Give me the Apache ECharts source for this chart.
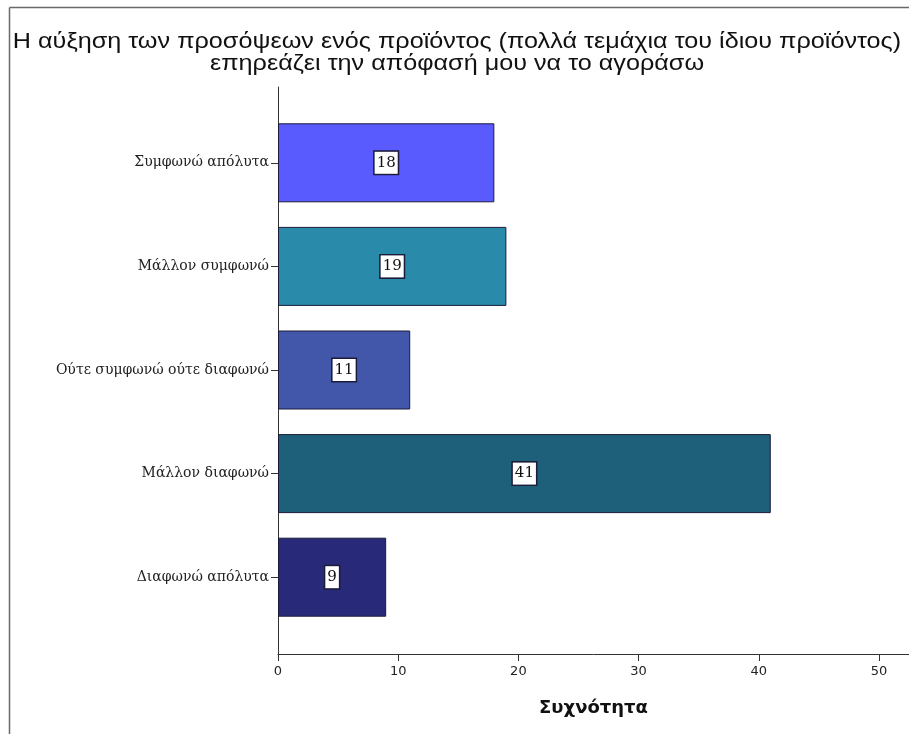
<!DOCTYPE html>
<html>
<head>
<meta charset="utf-8">
<script src="https://cdn.jsdelivr.net/npm/echarts@6/dist/echarts.min.js"></script>
<style>
  html, body { margin: 0; padding: 0; background: #ffffff; }
  #chart { width: 909px; height: 734px; }
</style>
</head>
<body>
<div id="chart"></div>
<script>
// Response categories, top to bottom
var categories = [
  'Συμφωνώ απόλυτα',
  'Μάλλον συμφωνώ',
  'Ούτε συμφωνώ ούτε διαφωνώ',
  'Μάλλον διαφωνώ',
  'Διαφωνώ απόλυτα'
];
// Frequency of each response
var frequencies = [18, 19, 11, 41, 9];
// Tick values on the frequency axis
var xTicks = [0, 10, 20, 30, 40, 50];
// One fill per response bar
var barColors = ['#5a5bff', '#2a8aa9', '#4256aa', '#1e6079', '#29297a'];

var titleLines = [
  'Η αύξηση των προσόψεων ενός προϊόντος (πολλά τεμάχια του ίδιου προϊόντος)',
  'επηρεάζει την απόφασή μου να το αγοράσω'
];

var chart = echarts.init(document.getElementById('chart'), null, { renderer: 'canvas' });

var X_MAX = 52.5;

// Title drawn as two stretched text lines (tall, wide sans face)
function titleLine(text, y) {
  return {
    type: 'text',
    x: 457, y: y,
    scaleX: 1.2, scaleY: 1.05,
    style: {
      text: text,
      fontFamily: 'Liberation Sans',
      fontSize: 21,
      fill: '#111111',
      align: 'center',
      verticalAlign: 'middle'
    }
  };
}

var option = {
  backgroundColor: '#ffffff',
  animation: false,
  graphic: [
    // outer frame (top and left edges)
    { type: 'line', shape: { x1: 9.5, y1: 7.5, x2: 909, y2: 7.5 }, style: { stroke: '#6a6a6a', lineWidth: 1.5 } },
    { type: 'line', shape: { x1: 9.5, y1: 7.5, x2: 9.5, y2: 734 }, style: { stroke: '#6a6a6a', lineWidth: 1.5 } },
    titleLine(titleLines[0], 42),
    titleLine(titleLines[1], 64)
  ],
  grid: [
    { left: 278, right: 0, top: 87, bottom: 80 },
    { left: 278, right: 0, top: 111, bottom: 105 }
  ],
  xAxis: [
    {
      type: 'value', gridIndex: 0, min: 0, max: X_MAX,
      axisLine: { show: true, lineStyle: { color: '#333333', width: 1 } },
      axisTick: { show: true, length: 7, customValues: xTicks, lineStyle: { color: '#333333' } },
      axisLabel: {
        customValues: xTicks, color: '#222222', fontFamily: 'DejaVu Sans', fontSize: 13, margin: 11
      },
      splitLine: { show: false },
      name: 'Συχνότητα',
      nameLocation: 'middle',
      nameGap: 45,
      nameTextStyle: { fontFamily: 'DejaVu Sans', fontSize: 18, fontWeight: 'bold', color: '#111111' }
    },
    {
      type: 'value', gridIndex: 1, min: 0, max: X_MAX, show: false
    }
  ],
  yAxis: [
    {
      type: 'value', gridIndex: 0, min: 0, max: 1,
      axisLine: { show: true, onZero: false, lineStyle: { color: '#333333', width: 1 } },
      axisTick: { show: false }, axisLabel: { show: false }, splitLine: { show: false }
    },
    {
      type: 'category', gridIndex: 1, data: categories, inverse: true,
      axisLine: { show: false },
      axisTick: { show: true, length: 7, alignWithLabel: true, lineStyle: { color: '#333333' } },
      axisLabel: { color: '#222222', fontFamily: 'DejaVu Serif', fontSize: 14, margin: 9 },
      splitLine: { show: false }
    }
  ],
  series: [
    {
      type: 'bar',
      xAxisIndex: 1, yAxisIndex: 1,
      barWidth: 79,
      data: frequencies.map(function (v, i) {
        return { value: v, itemStyle: { color: barColors[i] } };
      }),
      itemStyle: { borderColor: '#1b1b3a', borderWidth: 1 },
      label: {
        show: true,
        position: 'inside',
        fontFamily: 'DejaVu Serif',
        fontSize: 15,
        color: '#111111',
        backgroundColor: '#ffffff',
        borderColor: '#1b1b3a',
        borderWidth: 1.5,
        padding: [4, 2, 3, 2]
      }
    }
  ]
};

chart.setOption(option);
</script>
</body>
</html>
